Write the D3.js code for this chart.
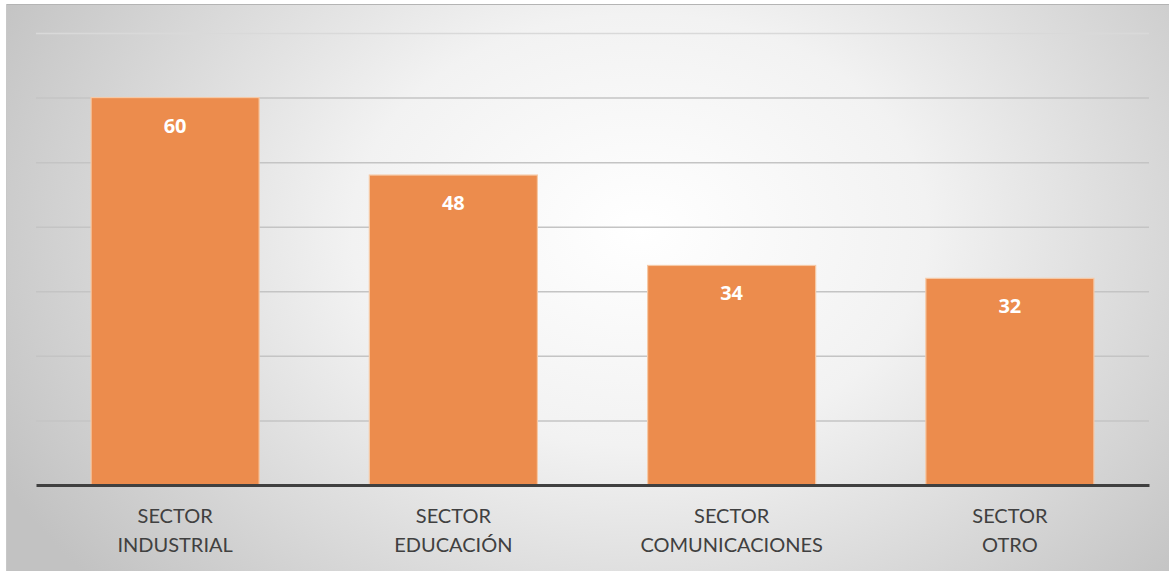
<!DOCTYPE html>
<html>
<head>
<meta charset="utf-8">
<script src="https://cdn.jsdelivr.net/npm/d3@7"></script>
<style>
  html, body { margin: 0; padding: 0; background: #ffffff; }
  svg { display: block; }
</style>
</head>
<body>
<svg id="chart" width="1169" height="571"></svg>
<script>
// Sector data
const categories = [["SECTOR", "INDUSTRIAL"], ["SECTOR", "EDUCACIÓN"], ["SECTOR", "COMUNICACIONES"], ["SECTOR", "OTRO"]];
const values = [60, 48, 34, 32];
const gridTicks = [10, 20, 30, 40, 50, 60, 70];

const svg = d3.select("#chart");
const W = 1169, H = 571;

// Background panel with a soft radial shading
const defs = svg.append("defs");
const grad = defs.append("radialGradient")
  .attr("id", "bg").attr("gradientUnits", "userSpaceOnUse")
  .attr("cx", 640).attr("cy", 230).attr("r", 720)
  .attr("gradientTransform", "translate(640,230) scale(1,0.75) translate(-640,-230)");
grad.append("stop").attr("offset", "0%").attr("stop-color", "#ffffff");
grad.append("stop").attr("offset", "40%").attr("stop-color", "#f2f2f2");
grad.append("stop").attr("offset", "100%").attr("stop-color", "#c2c2c2");

svg.append("rect").attr("x", 6).attr("y", 4).attr("width", W - 6).attr("height", H - 4)
  .attr("fill", "url(#bg)");
svg.append("line").attr("x1", 6).attr("x2", W).attr("y1", 4.5).attr("y2", 4.5)
  .attr("stroke", "#b4b4b4").attr("stroke-width", 1);
svg.append("line").attr("x1", 6.5).attr("x2", 6.5).attr("y1", 4).attr("y2", H)
  .attr("stroke", "#c8c8c8").attr("stroke-width", 1);

const margin = { left: 36, right: 20, top: 33, bottom: 86 };
const x = d3.scaleBand()
  .domain(d3.range(values.length))
  .range([margin.left, W - margin.right])
  .paddingInner(0.396).paddingOuter(0.198);
const y = d3.scaleLinear().domain([0, 70]).range([H - margin.bottom, margin.top]);

// Horizontal gridlines
svg.append("g")
  .attr("transform", `translate(${margin.left},0)`)
  .call(d3.axisLeft(y).tickValues(gridTicks).tickSize(-(W - margin.right - margin.left)).tickFormat(""))
  .call(g => g.select(".domain").remove())
  .call(g => g.selectAll(".tick line")
    .attr("stroke", d => d === 70 ? "#d9d9d9" : "#c4c4c4")
    .attr("stroke-width", 1.5));

// Bars
svg.append("g").selectAll("rect").data(values).join("rect")
  .attr("x", (d, i) => x(i))
  .attr("y", d => y(d))
  .attr("width", x.bandwidth())
  .attr("height", d => y(0) - y(d))
  .attr("fill", "#ec8c4d")
  .attr("stroke", "#f6c9a6")
  .attr("stroke-width", 1.2);

// Value labels
svg.append("g").selectAll("text").data(values).join("text")
  .attr("x", (d, i) => x(i) + x.bandwidth() / 2)
  .attr("y", d => y(d) + 35)
  .attr("text-anchor", "middle")
  .attr("font-family", "Open Sans, Lato, sans-serif")
  .attr("font-weight", "bold")
  .attr("font-size", 20)
  .attr("fill", "#ffffff")
  .text(d => d);

// Baseline
svg.append("g")
  .attr("transform", `translate(0,${y(0)})`)
  .call(d3.axisBottom(x).tickSize(0).tickFormat(""))
  .call(g => g.select(".domain").attr("stroke", "#404040").attr("stroke-width", 3));

// Category labels
const lab = svg.append("g").selectAll("text").data(categories).join("text")
  .attr("x", (d, i) => x(i) + x.bandwidth() / 2)
  .attr("text-anchor", "middle")
  .attr("font-family", "Lato, Open Sans, sans-serif")
  .attr("font-size", 20)
  .attr("fill", "#404040");
lab.each(function(d) {
  const t = d3.select(this);
  d.forEach((line, k) => {
    t.append("tspan").attr("x", t.attr("x")).attr("y", y(0) + 38 + k * 29).text(line);
  });
});
</script>
</body>
</html>
